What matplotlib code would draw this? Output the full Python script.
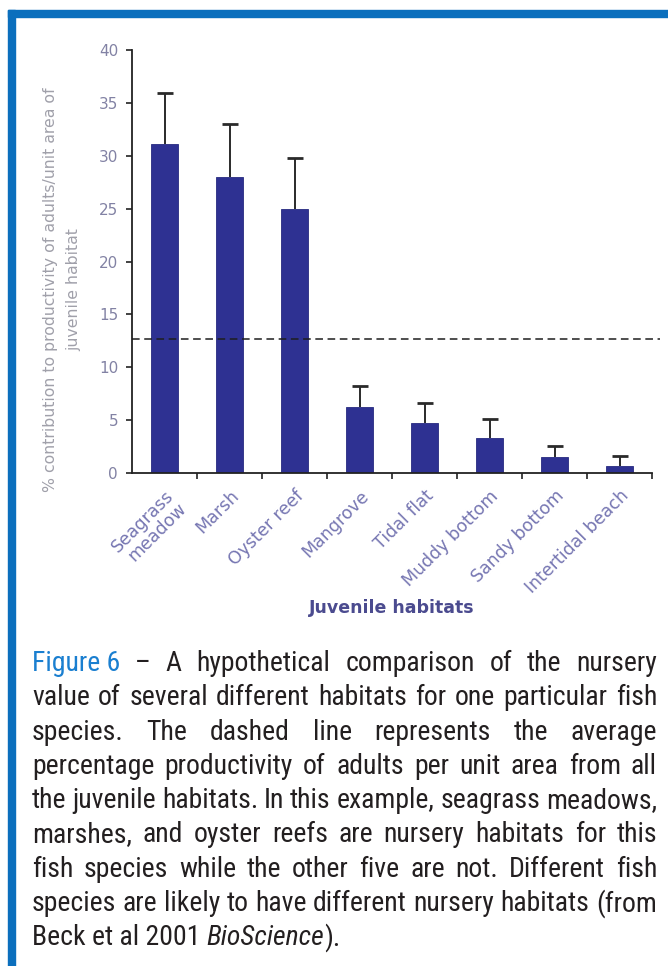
import matplotlib
matplotlib.use("Agg")
import matplotlib.pyplot as plt
import numpy as np
from matplotlib import font_manager
from matplotlib.patches import Rectangle

# data
habitats = ['Seagrass\nmeadow', 'Marsh', 'Oyster reef', 'Mangrove', 'Tidal flat',
            'Muddy bottom', 'Sandy bottom', 'Intertidal beach']
means = [31.1, 28.0, 25.0, 6.2, 4.7, 3.3, 1.5, 0.7]
upper_err = [4.8, 5.0, 4.8, 2.0, 1.9, 1.8, 1.05, 0.9]
average = 12.7

caption_lines = [
    "value of several different habitats for one particular fish",
    "species. The dashed line represents the average",
    "percentage productivity of adults per unit area from all",
    "the juvenile habitats. In this example, seagrass meadows,",
    "marshes, and oyster reefs are nursery habitats for this",
    "fish species while the other five are not.  Different fish",
    "species are likely to have different nursery habitats (from",
]


def pick_font(italic=False):
    # prefer a narrow face for the caption, if one is installed
    want = 'italic' if italic else 'normal'
    narrow = []
    for f in font_manager.fontManager.ttflist:
        if f.style != want or f.weight not in (400, 'normal', 'regular'):
            continue
        if 'Narrow' in f.name or 'Condensed' in f.name or f.stretch in ('condensed', 'semi-condensed'):
            narrow.append(f)
    for key in ['Liberation Sans Narrow', 'Roboto Condensed', 'DejaVu Sans Condensed', 'Noto Sans']:
        for f in narrow:
            if f.name.startswith(key):
                return font_manager.FontProperties(fname=f.fname)
    if narrow:
        return font_manager.FontProperties(fname=narrow[0].fname)
    return font_manager.FontProperties(family='Roboto', style=want)


W, H = 668, 966
fig = plt.figure(figsize=(W / 100, H / 100), dpi=100)
fig.patch.set_facecolor('white')

# blue frame (top and left edges)
blue = '#0b6fbd'
fig.patches.append(Rectangle((8 / W, 1 - 17 / H), 1, 7 / H, transform=fig.transFigure,
                             color=blue, zorder=0))
fig.patches.append(Rectangle((8 / W, 0), 7 / W, 1 - 10 / H, transform=fig.transFigure,
                             color=blue, zorder=0))

ax = fig.add_axes([132 / W, 1 - 473 / H, 520 / W, 423 / H])
x = np.arange(len(habitats))
ax.bar(x, means, width=0.42, color='#2e3192', edgecolor='#262a80', linewidth=0.6, zorder=2)
eb = ax.errorbar(x, means, yerr=[np.zeros(len(means)), upper_err], fmt='none',
                 ecolor='#2a2a2a', elinewidth=1.4, capsize=5.5, capthick=2.0, zorder=3)
eb[1][0].set_visible(False)   # no cap on the bar tops
ax.axhline(average, xmin=0, xmax=1.016, color='#1e1e1e', lw=1.1,
           dashes=(5, 3), clip_on=False, zorder=4)

ax.set_xlim(-0.5, len(habitats) - 0.5)
ax.set_ylim(0, 40)
for s in ['top', 'right']:
    ax.spines[s].set_visible(False)
for s in ['left', 'bottom']:
    ax.spines[s].set_linewidth(1.3)
    ax.spines[s].set_color('#222222')

ax.set_yticks(range(0, 41, 5))
ax.tick_params(axis='y', length=4, width=1.2, pad=6, labelsize=11, labelcolor='#8282a4',
               color='#222222')
ax.set_xticks(x)
ax.set_xticklabels(habitats, rotation=45, ha='right', rotation_mode='anchor',
                   fontsize=12.5, color='#7676b2', linespacing=1.0)
ax.tick_params(axis='x', length=0, pad=10)
ax.set_xticks(np.arange(0.5, len(habitats), 1), minor=True)
ax.tick_params(axis='x', which='minor', length=4, width=1.2, color='#222222')

ax.set_xlabel('Juvenile habitats', fontsize=12.5, fontweight='bold', color='#4b4b8f')
ax.xaxis.set_label_coords(0.5, -(599 - 473) / 423)

fig.text(51 / W, 1 - 290 / H, '% contribution to productivity of adults/unit area of',
         rotation=90, ha='center', va='center', fontsize=11.3, color='#a0a0aa')
fig.text(74 / W, 1 - 290 / H, 'juvenile habitat', rotation=90, ha='center', va='center',
         fontsize=11.3, color='#a0a0aa')

# caption, justified between two margins
fp = pick_font()
fpi = pick_font(italic=True)
left, right = 32, 657
renderer = fig.canvas.get_renderer()

# size the caption so the widest line just fits the column
probe = fig.text(0, 0, max(caption_lines, key=len), fontproperties=fp, fontsize=20)
natural = probe.get_window_extent(renderer).width
probe.remove()
csize = min(20.0, 20.0 * (right - left - 4) / natural)
fp.set_size(csize)
fpi.set_size(csize)


def put_words(words, y):
    objs = []
    for w, col in words:
        t = fig.text(0, 1 - y / H, w, fontproperties=fp, va='baseline', color=col)
        objs.append(t)
    widths = [t.get_window_extent(renderer).width for t in objs]
    gap = (right - left - sum(widths)) / (len(objs) - 1)
    xpos = left
    for t, wd in zip(objs, widths):
        t.set_x(xpos / W)
        xpos += wd + gap


ink = '#231f20'
y0 = 671
step = 34.3
first = [("Figure 6", '#1a7fd0'), ("–", ink), ("A", ink), ("hypothetical", ink),
         ("comparison", ink), ("of", ink), ("the", ink), ("nursery", ink)]
put_words(first, y0)
for i, line in enumerate(caption_lines):
    put_words([(w, ink) for w in line.split()], y0 + step * (i + 1))

# last line: left aligned, with italic journal name
yl = 1 - (y0 + step * 8) / H
xpos = left
for txt, prop in [("Beck et al 2001 ", fp), ("BioScience", fpi), (").", fp)]:
    t = fig.text(xpos / W, yl, txt, fontproperties=prop, va='baseline', color=ink)
    xpos += t.get_window_extent(renderer).width

fig.savefig('out.png', dpi=100, facecolor='white')
